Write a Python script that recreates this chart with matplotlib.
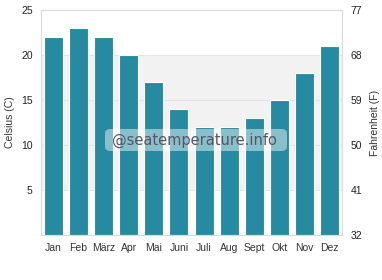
import matplotlib
matplotlib.use("Agg")
import matplotlib.pyplot as plt
from matplotlib.patches import FancyBboxPatch

months = ["Jan", "Feb", "März", "Apr", "Mai", "Juni", "Juli", "Aug", "Sept", "Okt", "Nov", "Dez"]
temps_c = [22, 23, 22, 20, 17, 14, 12, 12, 13, 15, 18, 21]
left_ticks = [5, 10, 15, 20, 25]
right_ticks = [32, 41, 50, 59, 68, 77]

plt.rcParams['font.family'] = ['Liberation Sans', 'DejaVu Sans']

fig = plt.figure(figsize=(3.82, 2.8), dpi=100)
ax = fig.add_axes([41/382, 1 - 235/280, (342-41)/382, (235-10)/280])

ax.set_ylim(0, 25)
ax.set_xlim(-0.5, len(months) - 0.5)
ax.axhspan(5, 20, color="#f2f2f2", zorder=0, lw=0)
for t in [5, 10, 15, 20]:
    ax.axhline(t, color="#e3e3e3", lw=0.8, zorder=1)

ax.bar(range(len(months)), temps_c, width=0.76, color="#268ba0", edgecolor="white", linewidth=0.8, zorder=2)

ax.set_xticks(range(len(months)))
ax.set_xticklabels(months, fontsize=7.5, color="#333333")
ax.set_yticks(left_ticks)
ax.set_yticklabels([str(t) for t in left_ticks], fontsize=7.5, color="#222222")
ax.tick_params(axis='both', length=0, pad=6)
ax.set_ylabel("Celsius (C)", fontsize=7.5, color="#333333", labelpad=4)
for s in ax.spines.values():
    s.set_color("#d9d9d9")
    s.set_linewidth(0.8)

ax2 = ax.twinx()
ax2.set_ylim(32, 77)
ax2.set_yticks(right_ticks)
ax2.set_yticklabels([str(t) for t in right_ticks], fontsize=7.5, color="#222222")
ax2.tick_params(axis='y', length=0, pad=6)
ax2.set_ylabel("Fahrenheit (F)", fontsize=7.5, color="#333333", labelpad=6)
for s in ax2.spines.values():
    s.set_visible(False)

# watermark
box = FancyBboxPatch((105/382, 1 - 151/280), (287-105)/382, 22/280,
                     boxstyle="round,pad=0,rounding_size=0.015",
                     transform=fig.transFigure, facecolor="white", alpha=0.45,
                     edgecolor="none", zorder=5)
fig.patches.append(box)
fig.text(194/382, 1 - 140/280, "@seatemperature.info", fontsize=10.5,
         family="DejaVu Sans", color="#555566", ha="center", va="center", zorder=6)

fig.savefig("out.png", dpi=100)
